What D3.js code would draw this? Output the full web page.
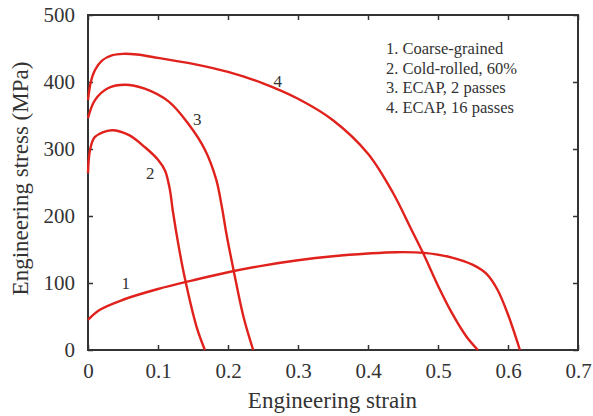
<!DOCTYPE html>
<html>
<head>
<meta charset="utf-8">
<script src="https://cdn.jsdelivr.net/npm/d3@7"></script>
<style>
  body { margin: 0; background: #fff; }
  text { font-family: "Liberation Serif", "Times New Roman", serif; fill: #333; }
</style>
</head>
<body>
<svg id="chart" width="593" height="416"></svg>
<script>
// strain / stress readings (MPa) taken from the figure
var coarseGrained = [
  [0, 45], [0.017, 60], [0.05, 75], [0.1, 91], [0.15, 104], [0.2, 116],
  [0.25, 126], [0.3, 134], [0.35, 140], [0.4, 144], [0.44, 146], [0.48, 145],
  [0.52, 138], [0.55, 127], [0.57, 113], [0.585, 90], [0.6, 53], [0.617, 0]
];
var coldRolled = [
  [0, 264], [0.003, 299], [0.01, 318], [0.034, 328], [0.058, 321], [0.081, 303],
  [0.1, 284], [0.11, 268], [0.117, 239], [0.121, 209], [0.13, 152],
  [0.139, 104], [0.155, 35], [0.167, 0]
];
var ecap2 = [
  [0, 346], [0.01, 373], [0.029, 391], [0.053, 396], [0.081, 390], [0.115, 371],
  [0.143, 338], [0.167, 299], [0.183, 255], [0.191, 215], [0.198, 172],
  [0.208, 119], [0.222, 50], [0.236, 0]
];
var ecap16 = [
  [0, 373], [0.004, 400], [0.01, 418], [0.02, 432], [0.035, 440], [0.05, 442],
  [0.07, 441], [0.1, 436], [0.15, 427], [0.2, 415], [0.25, 398], [0.3, 375],
  [0.35, 343], [0.4, 293], [0.436, 234], [0.46, 184], [0.479, 144], [0.5, 96],
  [0.52, 55], [0.54, 21], [0.557, 0]
];
var curves = [coarseGrained, coldRolled, ecap2, ecap16];

// curve number labels [strain, stress]
var curveLabels = [["1", 0.054, 100], ["2", 0.089, 264], ["3", 0.156, 344], ["4", 0.271, 402]];
var legendItems = ["1. Coarse-grained", "2. Cold-rolled, 60%", "3. ECAP, 2 passes", "4. ECAP, 16 passes"];
var xTicks = [0, 0.1, 0.2, 0.3, 0.4, 0.5, 0.6, 0.7];
var yTicks = [0, 100, 200, 300, 400, 500];

var svg = d3.select("#chart"),
    margin = {top: 15, right: 15, bottom: 66, left: 88},
    width = +svg.attr("width") - margin.left - margin.right,
    height = +svg.attr("height") - margin.top - margin.bottom;

var x = d3.scaleLinear().domain([0, 0.7]).range([0, width]);
var y = d3.scaleLinear().domain([0, 500]).range([height, 0]);

var g = svg.append("g")
    .attr("transform", "translate(" + margin.left + "," + margin.top + ")");

var axisColor = "#333";

function styleAxis(sel, labels) {
    sel.select(".domain").remove();
    sel.selectAll(".tick line").attr("stroke", axisColor).attr("stroke-width", 1.5);
    sel.selectAll(".tick text")
        .attr("font-size", labels ? 21 : 0)
        .attr("fill", axisColor)
        .style("font-family", "'Liberation Serif', serif");
}

// bottom / left axes with labels, ticks pointing inward
g.append("g")
    .attr("transform", "translate(0," + height + ")")
    .call(d3.axisBottom(x).tickValues(xTicks).tickSizeInner(-5).tickPadding(13)
        .tickFormat(function(d) { return d === 0 ? "0" : d3.format(".1f")(d); }))
    .call(styleAxis, true);

g.append("g")
    .call(d3.axisLeft(y).tickValues(yTicks).tickSizeInner(-5).tickPadding(13))
    .call(styleAxis, true);

// mirrored top / right ticks
g.append("g")
    .call(d3.axisTop(x).tickValues(xTicks).tickSizeInner(-5).tickFormat(""))
    .call(styleAxis, false);
g.append("g")
    .attr("transform", "translate(" + width + ",0)")
    .call(d3.axisRight(y).tickValues(yTicks).tickSizeInner(-5).tickFormat(""))
    .call(styleAxis, false);

// frame
g.append("rect")
    .attr("width", width)
    .attr("height", height)
    .attr("fill", "none")
    .attr("stroke", axisColor)
    .attr("stroke-width", 2);

var line = d3.line()
    .x(function(d) { return x(d[0]); })
    .y(function(d) { return y(d[1]); })
    .curve(d3.curveCatmullRom.alpha(0.5));

g.selectAll(".curve")
    .data(curves)
    .enter().append("path")
    .attr("class", "curve")
    .attr("fill", "none")
    .attr("stroke", "#e0211c")
    .attr("stroke-width", 2.4)
    .attr("stroke-linejoin", "round")
    .attr("d", line);

g.selectAll(".clabel")
    .data(curveLabels)
    .enter().append("text")
    .attr("class", "clabel")
    .attr("x", function(d) { return x(d[1]); })
    .attr("y", function(d) { return y(d[2]); })
    .attr("dy", "0.35em")
    .attr("text-anchor", "middle")
    .attr("font-size", 17)
    .text(function(d) { return d[0]; });

g.selectAll(".legend")
    .data(legendItems)
    .enter().append("text")
    .attr("class", "legend")
    .attr("x", 298)
    .attr("y", function(d, i) { return 39 + i * 19.6; })
    .attr("font-size", 16.5)
    .text(function(d) { return d; });

// axis titles
svg.append("text")
    .attr("x", margin.left + width / 2 - 0.5)
    .attr("y", 408)
    .attr("text-anchor", "middle")
    .attr("font-size", 23)
    .text("Engineering strain");

svg.append("text")
    .attr("transform", "translate(28," + (margin.top + height / 2 - 4) + ") rotate(-90)")
    .attr("text-anchor", "middle")
    .attr("font-size", 23)
    .text("Engineering stress (MPa)");
</script>
</body>
</html>
